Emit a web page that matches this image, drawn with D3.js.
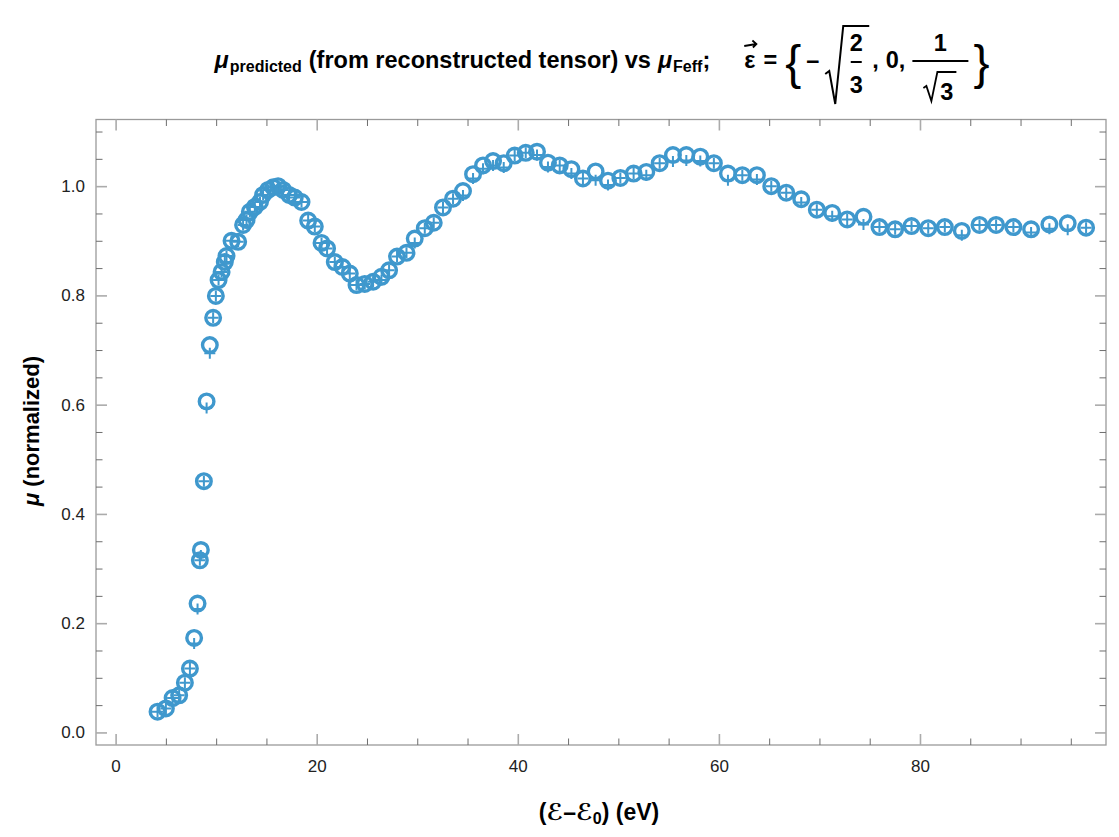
<!DOCTYPE html>
<html><head><meta charset="utf-8">
<script src="https://cdn.jsdelivr.net/npm/d3@7"></script>
<style>body{margin:0;background:#fff;} svg{display:block;}</style>
</head><body>
<svg id="chart" width="1119" height="837"></svg>
<script>
// ---- data ----
const energy = [4.17,5.0,5.67,6.32,6.89,7.39,7.81,8.15,8.38,8.48,8.78,9.05,9.37,9.70,9.97,10.24,10.54,10.86,11.03,11.53,12.19,12.68,13.02,13.35,13.85,14.36,14.67,15.17,15.67,16.16,16.66,17.26,17.82,18.49,19.15,19.81,20.48,21.03,21.80,22.56,23.29,23.96,24.78,25.61,26.44,27.20,27.99,28.93,29.75,30.75,31.64,32.56,33.56,34.55,35.55,36.54,37.54,38.60,39.69,40.79,41.91,43.0,44.17,45.33,46.48,47.74,48.97,50.20,51.52,52.78,54.11,55.43,56.76,58.15,59.50,60.90,62.33,63.78,65.21,66.70,68.19,69.74,71.27,72.76,74.38,75.97,77.53,79.16,80.82,82.47,84.16,85.92,87.57,89.29,91.05,92.87,94.69,96.52];
const muPredicted = [0.038,0.044,0.063,0.068,0.091,0.117,0.173,0.236,0.315,0.334,0.460,0.606,0.709,0.759,0.799,0.828,0.843,0.861,0.872,0.900,0.898,0.929,0.938,0.953,0.962,0.971,0.984,0.993,0.998,1.000,0.993,0.984,0.979,0.971,0.937,0.926,0.896,0.886,0.861,0.852,0.840,0.819,0.821,0.825,0.834,0.846,0.871,0.878,0.904,0.923,0.933,0.961,0.977,0.991,1.022,1.038,1.046,1.042,1.056,1.061,1.063,1.043,1.038,1.031,1.014,1.027,1.010,1.015,1.023,1.026,1.042,1.057,1.057,1.054,1.042,1.023,1.020,1.020,1.000,0.988,0.976,0.957,0.951,0.939,0.944,0.925,0.921,0.927,0.923,0.925,0.918,0.929,0.929,0.925,0.921,0.930,0.932,0.924];
const muFeff = [0.038,0.044,0.063,0.068,0.091,0.117,0.163,0.226,0.315,0.324,0.460,0.594,0.694,0.759,0.799,0.828,0.843,0.861,0.872,0.900,0.898,0.929,0.938,0.953,0.962,0.971,0.984,0.993,0.998,1.000,0.993,0.984,0.979,0.971,0.937,0.926,0.896,0.886,0.861,0.852,0.840,0.819,0.821,0.825,0.828,0.846,0.871,0.878,0.896,0.923,0.933,0.961,0.977,0.983,1.014,1.032,1.038,1.034,1.056,1.061,1.057,1.035,1.038,1.023,1.014,1.011,1.002,1.015,1.023,1.020,1.042,1.045,1.047,1.046,1.042,1.011,1.020,1.012,1.000,0.988,0.970,0.957,0.945,0.939,0.930,0.925,0.921,0.927,0.923,0.925,0.910,0.929,0.929,0.925,0.915,0.922,0.920,0.924];
const xTicks = [0,20,40,60,80];
const xMinorTicks = d3.range(0, 100, 5).filter(v => v % 20 !== 0);
const yTicks = [0,0.2,0.4,0.6,0.8,1.0];
const yMinorTicks = d3.range(0, 1.11, 0.05).map(v => +v.toFixed(2)).filter(v => Math.abs(v*5 - Math.round(v*5)) > 1e-6);
const xLabelParts = ["(ℰ–ℰ", "0", ") (eV)"];
const yLabelParts = ["μ", " (normalized)"];

const color = "#3f98cd";
const FONT = "'Liberation Sans', Arial, 'DejaVu Sans', sans-serif";

const svg = d3.select("#chart");
const L = 96, R = 1106, T0 = 119.5, B = 745;
const x = d3.scaleLinear().domain([-1.95, 98.5]).range([L, R]);
const y = d3.scaleLinear().domain([-0.023, 1.122]).range([B, T0]);

// frame
svg.append("rect").attr("x", L).attr("y", T0).attr("width", R-L).attr("height", B-T0)
  .attr("fill", "#fff").attr("stroke", "#9a9a9a").attr("stroke-width", 1.3);

function styleAxis(g, major) {
  g.select(".domain").remove();
  g.selectAll(".tick line").attr("stroke", major ? "#ababab" : "#6e6e6e").attr("stroke-width", major ? 1.6 : 1);
  g.selectAll(".tick text").attr("font-family", FONT).attr("font-size", 17).attr("fill", "#222");
}
const fmtY = d3.format(".1f");
// bottom
svg.append("g").attr("transform", `translate(0,${B})`)
  .call(d3.axisBottom(x).tickValues(xTicks).tickSize(-11).tickPadding(15).tickFormat(d3.format("d")))
  .call(g => styleAxis(g, true));
svg.append("g").attr("transform", `translate(0,${B})`)
  .call(d3.axisBottom(x).tickValues(xMinorTicks).tickSize(-6.5).tickFormat(""))
  .call(g => styleAxis(g, false));
// top
svg.append("g").attr("transform", `translate(0,${T0})`)
  .call(d3.axisTop(x).tickValues(xTicks).tickSize(-11).tickFormat(""))
  .call(g => styleAxis(g, true));
svg.append("g").attr("transform", `translate(0,${T0})`)
  .call(d3.axisTop(x).tickValues(xMinorTicks).tickSize(-6.5).tickFormat(""))
  .call(g => styleAxis(g, false));
// left
svg.append("g").attr("transform", `translate(${L},0)`)
  .call(d3.axisLeft(y).tickValues(yTicks).tickSize(-11).tickPadding(11).tickFormat(fmtY))
  .call(g => styleAxis(g, true));
svg.append("g").attr("transform", `translate(${L},0)`)
  .call(d3.axisLeft(y).tickValues(yMinorTicks).tickSize(-6.5).tickFormat(""))
  .call(g => styleAxis(g, false));
// right
svg.append("g").attr("transform", `translate(${R},0)`)
  .call(d3.axisRight(y).tickValues(yTicks).tickSize(-11).tickFormat(""))
  .call(g => styleAxis(g, true));
svg.append("g").attr("transform", `translate(${R},0)`)
  .call(d3.axisRight(y).tickValues(yMinorTicks).tickSize(-6.5).tickFormat(""))
  .call(g => styleAxis(g, false));

// data: crosses (Feff) and open circles (predicted)
const feffData = energy.map((e, i) => [e, muFeff[i]]);
const predData = energy.map((e, i) => [e, muPredicted[i]]);
const plot = svg.append("g");
plot.selectAll("path.cross").data(feffData).join("path").attr("class", "cross")
  .attr("d", d => { const cx = x(d[0]), cy = y(d[1]), h = 5.5; return `M${cx-h},${cy}H${cx+h}M${cx},${cy-h}V${cy+h}`; })
  .attr("stroke", color).attr("stroke-width", 2).attr("fill", "none");
plot.selectAll("circle.pred").data(predData).join("circle").attr("class", "pred")
  .attr("cx", d => x(d[0])).attr("cy", d => y(d[1])).attr("r", 7.3)
  .attr("fill", "none").attr("stroke", color).attr("stroke-width", 3.4);

// axis labels
const xl = svg.append("text").attr("x", 599).attr("y", 820).attr("text-anchor", "middle")
  .attr("font-family", FONT).attr("font-weight", "bold").attr("font-size", 23);
xl.append("tspan").text(xLabelParts[0]);
xl.append("tspan").attr("font-size", 16).attr("dy", 4).text(xLabelParts[1]);
xl.append("tspan").attr("dy", -4).text(xLabelParts[2]);

const yl = svg.append("text").attr("transform", "translate(39,431) rotate(-90)").attr("text-anchor", "middle")
  .attr("font-family", FONT).attr("font-weight", "bold").attr("font-size", 22);
yl.append("tspan").attr("font-style", "italic").text(yLabelParts[0]);
yl.append("tspan").attr("xml:space", "preserve").text(yLabelParts[1]);

// title
const TG = svg.append("g");
const base = 68, TF = 23.5, SF = 16;
let cx = 0;
function txt(s, o = {}) {
  const t = TG.append("text").attr("x", cx).attr("y", o.y ?? base)
    .attr("font-family", FONT).attr("font-weight", o.weight || "bold").attr("font-size", o.size || TF)
    .attr("font-style", o.italic ? "italic" : "normal").attr("fill", "#000").text(s);
  const w = t.node().getComputedTextLength();
  const x0 = cx;
  cx += w + (o.gap || 0);
  return { t, w, x0 };
}
function ctext(s, xx, yy) {
  TG.append("text").attr("x", xx).attr("y", yy).attr("text-anchor", "middle").attr("font-family", FONT)
    .attr("font-weight", "bold").attr("font-size", TF).text(s);
}
txt("μ", { italic: true, gap: 1 });
txt("predicted", { size: SF, y: base + 4, gap: 7 });
txt("(from reconstructed tensor) vs", { gap: 7 });
txt("μ", { italic: true, gap: 1 });
txt("Feff", { size: SF, y: base + 4, gap: 0 });
txt(";", { gap: 34 });
const eps = txt("ε", { gap: 8 });
TG.append("path").attr("d", `M${eps.x0},${base-22}L${eps.x0+eps.w+1},${base-24}M${eps.x0+eps.w-3},${base-27.5}L${eps.x0+eps.w+1},${base-24}L${eps.x0+eps.w-2.5},${base-20.5}`)
  .attr("stroke", "#000").attr("stroke-width", 1.8).attr("fill", "none");
txt("=", { gap: 8 });
txt("{", { size: 48, y: 79, weight: "normal", gap: 5 });
txt("–", { gap: 6 });
// sqrt(2/3)
{
  const x0 = cx, inner = 26;
  TG.append("path").attr("d", `M${x0},${74}L${x0+4},${71}L${x0+10},${104}L${x0+18},${26}H${x0+18+inner}`)
    .attr("stroke", "#000").attr("stroke-width", 2).attr("fill", "none");
  const mid = x0 + 18 + inner/2;
  ctext("2", mid, 51);
  TG.append("line").attr("x1", mid-5.5).attr("x2", mid+5.5).attr("y1", 62).attr("y2", 62).attr("stroke", "#000").attr("stroke-width", 2);
  ctext("3", mid, 93);
  cx = x0 + 18 + inner + 3;
}
txt(",", { gap: 7 });
txt("0", { gap: 0 });
txt(",", { gap: 7 });
// 1/sqrt(3)
{
  const x0 = cx, W = 56;
  const mid = x0 + W/2;
  ctext("1", mid, 51);
  TG.append("line").attr("x1", x0).attr("x2", x0+W).attr("y1", 61).attr("y2", 61).attr("stroke", "#000").attr("stroke-width", 2);
  const rx = x0 + 11;
  TG.append("path").attr("d", `M${rx},${88}L${rx+3},${86}L${rx+8},${101}L${rx+14},${72}H${rx+33}`)
    .attr("stroke", "#000").attr("stroke-width", 1.8).attr("fill", "none");
  ctext("3", rx + 23.5, 100);
  cx = x0 + W + 5;
}
txt("}", { size: 48, y: 79, weight: "normal", gap: 0 });
TG.attr("transform", `translate(${602 - cx/2},0)`);
</script>
</body></html>
